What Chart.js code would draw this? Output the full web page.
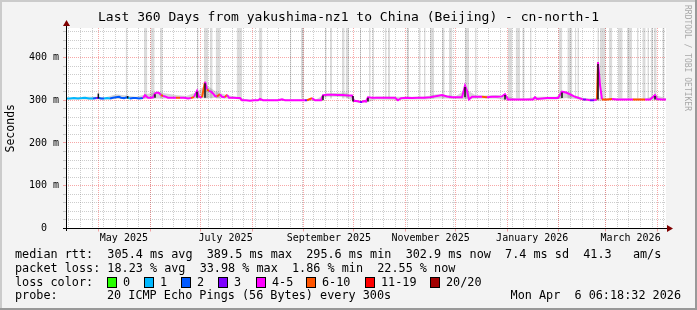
<!DOCTYPE html>
<html lang="en">
<head>
<meta charset="UTF-8">
<title>Last 360 Days - cn-north-1</title>
<script src="https://cdn.jsdelivr.net/npm/chart.js"></script>
<style>
  html, body { margin: 0; padding: 0; background: #f3f3f3; }
  canvas { display: block; }
</style>
</head>
<body>
<canvas id="chart" width="697" height="310"></canvas>
<script>
// graph window: 360 days ending at the probe timestamp
const endTime = Date.UTC(2026, 3, 6, 6, 18, 32);
const spanDays = 360;
const yMax = 469;

// loss classes (20 pings)
const lossLabels = ['0', '1', '2', '3', '4-5', '6-10', '11-19', '20/20'];
const lossColors = ['#26ff00', '#00b8ff', '#0059ff', '#7e00ff', '#ff00ff', '#ff5500', '#ff0000', '#a10000'];

// median rtt (ms), sampled by day since start, with loss class index
const medDays = [0, 2.4, 4.8, 7.2, 9.6, 11.4, 13.8, 16.2, 18, 19.4, 21, 22.8, 24.6, 26.4, 28.2, 30, 31.8, 33, 34.8, 36.6, 38.4, 40.2, 42, 43.8, 46.2,
  47.4, 49.2, 51, 52.2, 53.4, 54.6, 55.8, 57, 58.2, 59.4, 61.2, 63.6, 66, 68.4, 70.8, 73.2, 75, 76.8, 78.6, 79.8, 81.6, 83.4,
  84.6, 85.8, 87, 88.2, 89.4, 90.6, 92.4, 93.6, 95.4, 96.6, 97.8, 100.2, 102.6, 104.4, 105.6, 108, 110.4, 112.8, 115.2, 116.4, 118.2, 121.2, 124.2, 127.2, 129.6, 131.4, 134.4, 137.4, 140.4, 143.4, 144.6, 147.6, 149.4, 151.2, 153, 154.2, 157.2, 160.2, 163.2, 166.2, 169.2, 171.6, 172.8, 174.6, 176.4, 177.6, 178.8, 180, 181.2, 183.6, 186, 188.4,
  191.4, 194.4, 197.4, 199.2, 201, 204, 207.6, 211.2, 214.8, 218.4, 222.6, 225.6, 228.6, 231.6, 234.6, 237.6, 239.4, 240.6, 241.8, 243.6, 246.6, 249.6, 252.6, 255.6, 258.6, 261.6, 263.4, 265.2, 268.2, 271.2, 274.2, 277.2, 280.2, 281.4, 282.6, 285.6, 288.6, 291.6, 295.2, 297.6, 300, 302.4, 304.8, 307.2, 310.2, 312, 314.4, 316.8, 318.6, 319.2, 320.4, 321.6, 324.6, 327.6, 330.6, 335.4, 340.2, 344.4, 347.4, 350.4, 353.4, 354.6, 357.6, 360];
const medRtt = [304, 304, 305, 304, 305, 306, 304, 304, 305, 306, 304, 304, 305, 304, 306, 307, 308, 306, 305, 307, 304, 305, 305, 304, 305,
  312, 306, 306, 307, 316, 318, 317, 312, 310, 309, 306, 306, 306, 306, 306, 304, 305, 308, 322, 308, 307, 343,
  325, 322, 320, 316, 310, 309, 314, 308, 307, 313, 306, 306, 305, 305, 300, 300, 299, 300, 300, 303, 300, 300, 300, 300, 302, 300, 300, 300, 300, 300, 300, 305, 300, 300, 300, 312, 313, 313, 312, 312, 311, 311, 298, 298, 296, 296, 298, 297, 307, 306, 306, 306,
  306, 306, 306, 300, 305, 306, 305, 306, 306, 307, 310, 312, 309, 307, 307, 307, 334, 322, 302, 308, 308, 308, 307, 308, 308, 309, 314, 302, 302, 302, 302, 302, 302, 307, 303, 304, 305, 305, 305, 320, 318, 314, 309, 306, 302, 302, 300, 300, 302, 389, 336, 302, 302, 303, 302, 302, 302, 302, 302, 302, 312, 303, 302, 302];
const medLoss = [1, 1, 1, 1, 1, 1, 1, 1, 2, 3, 2, 2, 1, 1, 2, 2, 2, 2, 2, 2, 1, 2, 2, 2, 2,
  4, 4, 4, 4, 4, 4, 4, 4, 5, 4, 4, 4, 4, 5, 4, 4, 4, 5, 4, 4, 4, 5,
  4, 5, 4, 4, 4, 4, 5, 4, 4, 5, 4, 4, 4, 4, 4, 4, 4, 4, 4, 4, 4, 4, 4, 4, 4, 4, 4, 4, 4, 4, 3, 5, 4, 4, 4, 4, 4, 4, 4, 4, 4, 4, 4, 4, 4, 3, 4, 4, 4, 4, 4, 4,
  4, 4, 4, 4, 4, 4, 4, 4, 4, 4, 4, 4, 4, 4, 4, 4, 4, 4, 4, 4, 4, 4, 5, 4, 4, 4, 4, 4, 4, 4, 4, 4, 4, 4, 4, 4, 4, 4, 4, 4, 4, 4, 4, 4, 4, 3, 4, 3, 4, 5, 4, 4, 5, 5, 4, 4, 4, 5, 5, 4, 4, 4, 4, 4];

// smoke envelope (ms)
const smokeDays = [0, 6, 12, 18, 24, 30, 36, 42, 48, 54, 60, 66, 72, 78, 84, 90, 96, 102, 108, 114, 120, 126, 132, 138, 144, 150, 156, 162, 168, 174, 180,
  186, 192, 198, 204, 210, 216, 222, 228, 234, 240, 246, 252, 258, 264, 270, 276, 282, 288, 294, 300, 306, 312, 318, 324, 330, 336, 342, 348, 354, 360];
const smokeHigh = [306, 307, 308, 308, 307, 314, 311, 308, 314, 320, 316, 312, 310, 318, 336, 320, 312, 309, 302, 302, 302, 302, 302, 302, 303, 302, 316, 317, 318, 300, 300,
  309, 309, 308, 308, 308, 309, 314, 312, 310, 325, 311, 311, 312, 310, 304, 304, 308, 308, 308, 321, 310, 304, 305, 304, 304, 304, 304, 304, 312, 304];
const smokeLow = [302, 302, 302, 302, 302, 303, 303, 303, 304, 304, 304, 304, 303, 304, 305, 305, 304, 303, 298, 298, 298, 298, 298, 298, 298, 298, 308, 308, 307, 295, 294,
  302, 301, 300, 302, 302, 302, 304, 304, 303, 302, 304, 304, 304, 300, 300, 300, 301, 302, 302, 305, 303, 298, 298, 300, 300, 300, 300, 300, 300, 300];

// dense dark smoke columns (ms)
const spikeDays = [19.4, 37, 53.4, 78.6, 83.4, 154.2, 172.2, 181.2, 239.4, 263.4, 297.6, 319.2, 353.4];
const spikeLow = [304, 304, 306, 306, 306, 300, 297, 297, 307, 302, 305, 302, 302];
const spikeHigh = [316, 310, 314, 320, 340, 311, 310, 306, 331, 312, 318, 385, 310];

// grey full-height columns (day ranges)
const gapStart = [35.8, 46.8, 50.8, 56.4, 78.6, 82.8, 86.4, 89.8, 102.4, 115.8, 134.4, 141, 155.4, 158.4, 165.6, 167.8, 176.4, 181.8, 183.8, 191.4, 193.2, 204.4, 211.8, 214.8, 218.4, 225.6, 229.8, 239.4, 245.4, 265.2, 269.8, 273.8, 278.4, 295.8, 300.8, 305.4, 306.8, 318.8, 320.4, 325.8, 331.2, 336.6, 342.6, 345.8, 348.8, 350.8, 352.8, 357.8];
const gapEnd = [36.8, 48.8, 53.2, 58, 79.5, 85.2, 88, 92.4, 105.6, 117.8, 135.2, 142.8, 156.4, 159.6, 167.2, 169.8, 177, 182.8, 184.8, 192.4, 194.4, 205.8, 212.8, 215.8, 220.8, 227.2, 231.8, 241.8, 246.4, 267.8, 272.4, 275.2, 279.4, 297.8, 303.8, 306.2, 307.8, 319.8, 323.8, 327.8, 334, 339.6, 343.6, 347.8, 349.8, 352.4, 354.4, 359.2];

// axis labels
const monthLabels = ['May 2025', 'July 2025', 'September 2025', 'November 2025', 'January 2026', 'March 2026'];
const labelMonths = [[2025, 4], [2025, 6], [2025, 8], [2025, 10], [2026, 0], [2026, 2]];
const yLabels = { 0: '0  ', 100: '100 m', 200: '200 m', 300: '300 m', 400: '400 m' };

const titleText = 'Last 360 Days from yakushima-nz1 to China (Beijing) - cn-north-1';
const legendRows = [
  'median rtt:  305.4 ms avg  389.5 ms max  295.6 ms min  302.9 ms now  7.4 ms sd  41.3   am/s',
  'packet loss: 18.23 % avg  33.98 % max  1.86 % min  22.55 % now'
];
const probeText = '20 ICMP Echo Pings (56 Bytes) every 300s';
const stampText = 'Mon Apr  6 06:18:32 2026';

const startTime = endTime - spanDays * 864e5;
const toDay = t => (t - startTime) / 864e5;

const MAJOR = 'rgba(240, 80, 80, 0.5)';
const MINOR = 'rgba(130, 130, 130, 0.4)';

// x ticks: weekly grid (Sundays), monthly major grid, mid-month labels
const xTicks = [];
for (let t = Date.UTC(2025, 3, 13); t < endTime; t += 7 * 864e5) xTicks.push({ value: toDay(t), kind: 'week' });
for (let m = 4; m <= 15; m++) xTicks.push({ value: toDay(Date.UTC(2025, m, 1)), kind: 'month' });
labelMonths.forEach(([y, m], i) => xTicks.push({ value: toDay(Date.UTC(y, m, 1)) + 15, kind: 'label', lbl: monthLabels[i] }));

const bandPoints = [];
gapStart.forEach((s, i) => {
  bandPoints.push({ x: s, y: yMax }, { x: gapEnd[i], y: yMax }, { x: gapEnd[i], y: null });
});
const spikePoints = [];
spikeDays.forEach((d, i) => {
  spikePoints.push({ x: d, y: spikeLow[i] }, { x: d, y: spikeHigh[i] }, { x: d, y: null });
});

const rrdFrame = {
  id: 'rrdFrame',
  beforeDraw(chart) {
    const { ctx, chartArea: a, width, height } = chart;
    ctx.save();
    ctx.fillStyle = '#f3f3f3';
    ctx.fillRect(0, 0, width, height);
    ctx.fillStyle = '#cbcbcb';
    ctx.fillRect(0, 0, width, 2);
    ctx.fillRect(0, 0, 2, height);
    ctx.fillStyle = '#999999';
    ctx.fillRect(0, height - 2, width, 2);
    ctx.fillRect(width - 2, 0, 2, height);
    ctx.fillStyle = '#ffffff';
    ctx.fillRect(a.left, a.top, a.right - a.left, a.bottom - a.top);
    ctx.restore();
  },
  afterDraw(chart) {
    const { ctx, chartArea: a } = chart;
    const x0 = Math.round(a.left), y0 = Math.floor(a.bottom);
    ctx.save();
    // axes
    ctx.fillStyle = '#000';
    ctx.fillRect(x0 - 3, y0, a.right - x0 + 6, 1);
    ctx.fillRect(x0, a.top - 4, 1, y0 - a.top + 7);
    ctx.fillStyle = '#7f0000';
    ctx.beginPath();
    ctx.moveTo(a.right + 1, y0 - 3);
    ctx.lineTo(a.right + 7, y0 + 0.5);
    ctx.lineTo(a.right + 1, y0 + 4);
    ctx.fill();
    ctx.beginPath();
    ctx.moveTo(x0 - 3, a.top - 2);
    ctx.lineTo(x0 + 0.5, a.top - 8);
    ctx.lineTo(x0 + 4, a.top - 2);
    ctx.fill();

    // title
    ctx.fillStyle = '#000';
    ctx.textBaseline = 'middle';
    ctx.textAlign = 'center';
    ctx.font = '13px "DejaVu Sans Mono"';
    ctx.fillText(titleText, chart.width / 2, 18);

    // legend
    ctx.textAlign = 'left';
    ctx.font = '11.8px "DejaVu Sans Mono"';
    ctx.fillText(legendRows[0], 15, 254.5);
    ctx.fillText(legendRows[1], 15, 268.5);
    ctx.fillText('loss color:', 15, 282.5);
    const boxX = [108, 145, 182, 219, 257, 307, 366, 431];
    lossLabels.forEach((l, i) => {
      ctx.fillStyle = lossColors[i];
      ctx.fillRect(boxX[i], 278, 8, 9);
      ctx.strokeStyle = '#000';
      ctx.lineWidth = 1;
      ctx.strokeRect(boxX[i] - 0.5, 277.5, 9, 10);
      ctx.fillStyle = '#000';
      ctx.fillText(l, boxX[i] + 15, 282.5);
    });
    ctx.fillText('probe:', 15, 296);
    ctx.fillText(probeText, 107, 296);
    ctx.textAlign = 'right';
    ctx.fillText(stampText, 681, 296);

    // credit
    ctx.translate(687, 5);
    ctx.rotate(Math.PI / 2);
    ctx.textAlign = 'left';
    ctx.fillStyle = '#a8a8a8';
    ctx.font = '8px "DejaVu Sans Mono"';
    ctx.fillText('RRDTOOL / TOBI OETIKER', 0, 0);
    ctx.restore();
  }
};

Chart.defaults.font.family = '"DejaVu Sans Mono", monospace';
Chart.defaults.color = '#000';

new Chart(document.getElementById('chart'), {
  type: 'line',
  data: {
    datasets: [
      {
        label: 'gaps', data: bandPoints, order: 5,
        borderWidth: 0, pointRadius: 0,
        backgroundColor: 'rgba(0, 0, 0, 0.14)',
        fill: { value: 304 }
      },
      {
        label: 'smoke low', data: smokeDays.map((d, i) => ({ x: d, y: smokeLow[i] })), order: 4,
        borderWidth: 0, pointRadius: 0, fill: false
      },
      {
        label: 'smoke high', data: smokeDays.map((d, i) => ({ x: d, y: smokeHigh[i] })), order: 3,
        borderWidth: 0, pointRadius: 0, fill: '-1',
        backgroundColor: 'rgba(90, 90, 90, 0.25)'
      },
      {
        label: 'median rtt', data: medDays.map((d, i) => ({ x: d, y: medRtt[i] })), order: 2,
        borderWidth: 2, pointRadius: 0, fill: false,
        borderColor: lossColors[4],
        segment: { borderColor: c => lossColors[medLoss[c.p1DataIndex]] }
      },
      {
        label: 'spikes', data: spikePoints, order: 1,
        borderWidth: 1.5, pointRadius: 0, fill: false,
        borderColor: '#111'
      }
    ]
  },
  options: {
    responsive: false,
    animation: false,
    events: [],
    layout: { padding: { left: 0, right: 31, top: 28, bottom: 61.5 } },
    plugins: { legend: { display: false }, tooltip: { enabled: false } },
    scales: {
      x: {
        type: 'linear', min: 0, max: spanDays, offset: false,
        afterBuildTicks: s => { s.ticks = xTicks.map(t => ({ ...t })); },
        afterFit: s => { s.height = 20; },
        grid: {
          color: c => !c.tick ? MINOR : c.tick.kind === 'month' ? MAJOR : c.tick.kind === 'week' ? MINOR : 'transparent',
          tickColor: c => c.tick && c.tick.kind === 'month' ? MAJOR : 'transparent',
          tickLength: 3
        },
        border: { display: false, dash: [1, 1] },
        ticks: {
          autoSkip: false, maxRotation: 0, padding: 1,
          font: { size: 10 },
          callback: (v, i, t) => t[i].lbl || ''
        }
      },
      y: {
        type: 'linear', min: 0, max: yMax,
        afterBuildTicks: s => {
          s.ticks = [];
          for (let v = 0; v < yMax; v += 20) s.ticks.push({ value: v });
        },
        afterFit: s => { s.width = 66; },
        grid: {
          color: c => c.tick && c.tick.value % 100 === 0 ? MAJOR : MINOR,
          tickLength: 3
        },
        border: { display: false, dash: [1, 1] },
        ticks: {
          autoSkip: false, padding: 4,
          font: { size: 10 },
          callback: v => yLabels[v] || ''
        },
        title: {
          display: true, text: 'Seconds',
          font: { size: 11.5 },
          padding: { top: 4, bottom: 4 }
        }
      }
    }
  },
  plugins: [rrdFrame]
});
</script>
</body>
</html>
